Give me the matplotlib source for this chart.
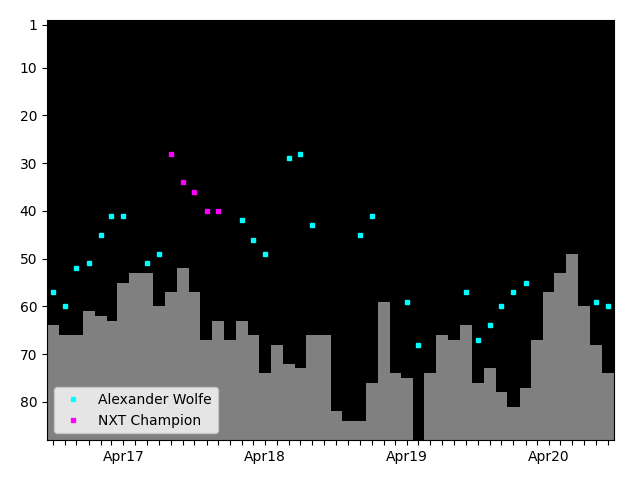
import matplotlib
matplotlib.use("Agg")
import matplotlib.pyplot as plt
import matplotlib.dates as mdates
import numpy as np
import pandas as pd

months = pd.date_range("2016-10-01", "2020-09-01", freq="MS")

# monthly rank bars (NaN = no rank that month)
bar_ranks = [64, 66, 66, 61, 62, 63, 55, 53, 53, 60, 57, 52,
             57, 67, 63, 67, 63, 66, 74, 68, 72, 73, 66, 66,
             82, 84, 84, 76, 59, 74, 75, np.nan, 74, 66, 67, 64,
             76, 73, 78, 81, 77, 67, 57, 53, 49, 60, 68, 74]

wolfe_dates = ["2016-10-01", "2016-11-01", "2016-12-01", "2017-01-01", "2017-02-01",
               "2017-03-01", "2017-04-01", "2017-06-01", "2017-07-01",
               "2018-02-01", "2018-03-01", "2018-04-01", "2018-06-01", "2018-07-01",
               "2018-08-01", "2018-12-01", "2019-01-01", "2019-04-01", "2019-05-01",
               "2019-09-01", "2019-10-01", "2019-11-01", "2019-12-01", "2020-01-01",
               "2020-02-01", "2020-08-01", "2020-09-01"]
wolfe_ranks = [57, 60, 52, 51, 45, 41, 41, 51, 49,
               42, 46, 49, 29, 28, 43, 45, 41, 59, 68,
               57, 67, 64, 60, 57, 55, 59, 60]

champ_dates = ["2017-08-01", "2017-09-01", "2017-10-01", "2017-11-01", "2017-12-01"]
champ_ranks = [28, 34, 36, 40, 40]

y_bottom = 88
y_ticks = [1, 10, 20, 30, 40, 50, 60, 70, 80]

fig, ax = plt.subplots(figsize=(6.4, 4.8), dpi=100)
fig.subplots_adjust(left=47/640, right=614/640, top=1-20/480, bottom=1-440/480)
ax.set_facecolor("black")

br = np.array(bar_ranks, dtype=float)
ax.bar(months, y_bottom - br, bottom=br, width=31, color="#808080", align="center")

ax.plot(pd.to_datetime(wolfe_dates), wolfe_ranks, "s", color="cyan", ms=3,
        linestyle="none", label="Alexander Wolfe")
ax.plot(pd.to_datetime(champ_dates), champ_ranks, "s", color="magenta", ms=3,
        linestyle="none", label="NXT Champion")

ax.set_ylim(y_bottom, 0)
ax.set_yticks(y_ticks)
ax.set_xlim(months[0] - pd.Timedelta(days=15), months[-1] + pd.Timedelta(days=15))

ax.xaxis.set_major_locator(mdates.MonthLocator())
ax.xaxis.set_major_formatter(plt.FuncFormatter(
    lambda x, pos: mdates.num2date(x).strftime("%b%y") if mdates.num2date(x).month == 4 else ""))

ax.legend(loc="lower left")
fig.savefig("out.png", dpi=100)
